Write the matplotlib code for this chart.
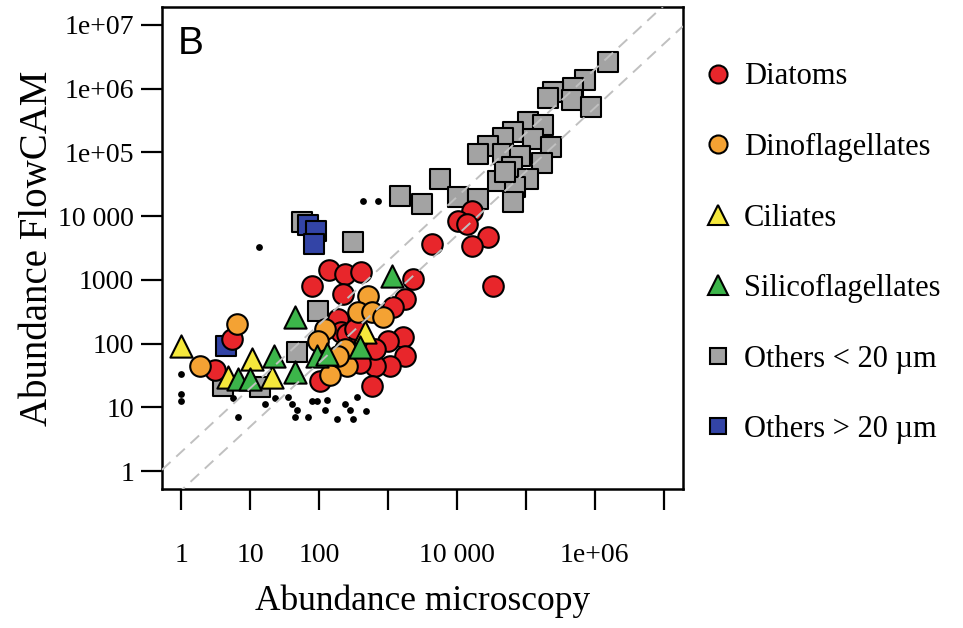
import numpy as np
import matplotlib
matplotlib.use("Agg")
import matplotlib.pyplot as plt
from matplotlib.lines import Line2D

# abundance pairs (microscopy, FlowCAM) per group
diatoms_x = [4400, 140, 240, 410, 80, 225, 2330, 1780, 1200, 190, 205, 1670, 1000,
             1780, 1080, 655, 395, 590, 104, 655, 257, 5.5, 3.1, 16700, 10500,
             14100, 28600, 16700, 33700, 335]
diatoms_y = [3650, 1440, 1240, 1330, 810, 600, 1040, 505, 380, 245, 155, 129, 112,
             63, 45, 45, 49, 22, 26, 83, 144, 120, 38, 12000, 8300,
             7500, 4700, 3400, 810, 170]

dino_x = [6.5, 1.9, 515, 370, 590, 850, 123, 98, 240, 257, 145, 190]
dino_y = [205, 44, 560, 316, 316, 264, 170, 112, 83, 44, 32, 63]

cil_x = [1, 10.7, 21, 4.7, 470]
cil_y = [93, 58, 30, 30, 155]

silico_x = [1150, 395, 45, 94, 132, 45, 22, 6.7, 10]
silico_y = [1150, 89, 264, 63, 69, 36, 63, 28, 28]

small_x = [57, 315, 1510, 3150, 5740, 98, 48, 14, 4,
           1.58e6, 7.3e5, 4.9e5, 2.5e5, 2.1e5, 4.7e5, 8.7e5, 1.09e5, 1.79e5,
           6.6e4, 4.7e4, 1.28e5, 2.3e5, 2.8e4, 2.0e4, 4.7e4, 8.3e4, 1.74e5,
           6.3e4, 1.09e5, 4.0e4, 7.0e4, 1.02e4, 2.0e4, 6.6e4, 5.0e4]
small_y = [8100, 3900, 20500, 15400, 38000, 330, 75, 21, 22,
           2.6e6, 1.38e6, 1.04e6, 8.9e5, 7.2e5, 6.7e5, 5.2e5, 3.0e5, 2.7e5,
           2.1e5, 1.7e5, 1.6e5, 1.2e5, 1.24e5, 9.3e4, 9.3e4, 8.7e4, 6.9e4,
           5.8e4, 3.8e4, 3.5e4, 2.9e4, 2.0e4, 1.85e4, 1.65e4, 5.0e4]

large_x = [70, 91, 85, 4.4]
large_y = [7200, 5800, 3650, 93]

# unclassified particles (small black dots)
dots_x = [13.5, 437, 720, 1, 1, 1, 5.7, 6.7, 16.5, 23, 35, 41, 48, 45, 68, 80,
          94, 123, 132, 183, 240, 283, 315, 357, 487]
dots_y = [3300, 17000, 17000, 34, 16.5, 12.4, 13.8, 7.2, 11.5, 13.8, 14.8, 11.5,
          9, 7.2, 7.2, 12.4, 12.4, 9, 12.9, 6.7, 11.5, 9, 6.7, 14.8, 8.7]

x_ticks = [1, 10, 100, 1e3, 1e4, 1e5, 1e6, 1e7]
x_labels = ["1", "10", "100", "", "10 000", "", "1e+06", ""]
y_ticks = [1, 10, 100, 1e3, 1e4, 1e5, 1e6, 1e7]
y_labels = ["1", "10", "100", "1000", "10 000", "1e+05", "1e+06", "1e+07"]

serif = "Liberation Serif"
c_red = "#e8262b"
c_orange = "#f4a233"
c_yellow = "#f5e83c"
c_green = "#3cb54a"
c_gray = "#a3a3a3"
c_blue = "#3344a6"

fig = plt.figure(figsize=(9.63, 6.28), dpi=100)
ax = fig.add_axes([0.1682, 0.2213, 0.541, 0.7675])
ax.set_xscale("log")
ax.set_yscale("log")
lo, hi = 10 ** -0.28, 10 ** 7.28
ax.set_xlim(lo, hi)
ax.set_ylim(lo, hi)

ew = 1.5
ax.scatter(dots_x, dots_y, s=24, c="black", linewidths=0, zorder=2)
ax.scatter(small_x, small_y, s=14 ** 2, marker="s", c=c_gray, edgecolors="black", linewidths=ew, zorder=3)
ax.scatter(large_x, large_y, s=14 ** 2, marker="s", c=c_blue, edgecolors="black", linewidths=ew, zorder=3)
ax.scatter(diatoms_x, diatoms_y, s=14.8 ** 2, marker="o", c=c_red, edgecolors="black", linewidths=ew, zorder=4)
ax.scatter(dino_x, dino_y, s=14.8 ** 2, marker="o", c=c_orange, edgecolors="black", linewidths=ew, zorder=4)
ax.scatter(cil_x, cil_y, s=16 ** 2, marker="^", c=c_yellow, edgecolors="black", linewidths=ew, zorder=5)
ax.scatter(silico_x, silico_y, s=16 ** 2, marker="^", c=c_green, edgecolors="black", linewidths=ew, zorder=5)

# factor-of-two bands around the 1:1 line
ref = np.array([lo, hi])
for f in (2.0, 0.5):
    ax.plot(ref, ref * f, color="#c0c0c0", lw=1.4, dashes=(6, 4), zorder=6)

ax.set_xticks(x_ticks)
ax.set_xticklabels(x_labels)
ax.set_yticks(y_ticks)
ax.set_yticklabels(y_labels)
ax.minorticks_off()
ax.tick_params(axis="both", direction="out", length=15, width=1.6, labelsize=20)
ax.tick_params(axis="x", pad=24)
ax.tick_params(axis="y", pad=5)
for lab in ax.get_xticklabels() + ax.get_yticklabels():
    lab.set_fontfamily(serif)
for sp in ax.spines.values():
    sp.set_linewidth(1.8)

ax.set_xlabel("Abundance microscopy", fontsize=25.5, fontfamily=serif, labelpad=12)
ax.set_ylabel("Abundance FlowCAM", fontsize=28, fontfamily=serif, labelpad=2)
ax.text(0.03, 0.96, "B", transform=ax.transAxes, fontsize=28,
        fontfamily="Liberation Sans", va="top", ha="left")

handles = [
    Line2D([], [], ls="", marker="o", ms=13, mfc=c_red, mec="black", mew=ew, label="Diatoms"),
    Line2D([], [], ls="", marker="o", ms=13, mfc=c_orange, mec="black", mew=ew, label="Dinoflagellates"),
    Line2D([], [], ls="", marker="^", ms=14, mfc=c_yellow, mec="black", mew=ew, label="Ciliates"),
    Line2D([], [], ls="", marker="^", ms=14, mfc=c_green, mec="black", mew=ew, label="Silicoflagellates"),
    Line2D([], [], ls="", marker="s", ms=12, mfc=c_gray, mec="black", mew=ew, label="Others < 20 µm"),
    Line2D([], [], ls="", marker="s", ms=12, mfc=c_blue, mec="black", mew=ew, label="Others > 20 µm"),
]
fig.legend(handles=handles, loc="upper left", bbox_to_anchor=(0.717, 0.925),
           frameon=False, prop={"family": serif, "size": 22},
           handlelength=0.8, handletextpad=0.45, labelspacing=1.36, borderpad=0)

fig.savefig("out.png", dpi=100)
